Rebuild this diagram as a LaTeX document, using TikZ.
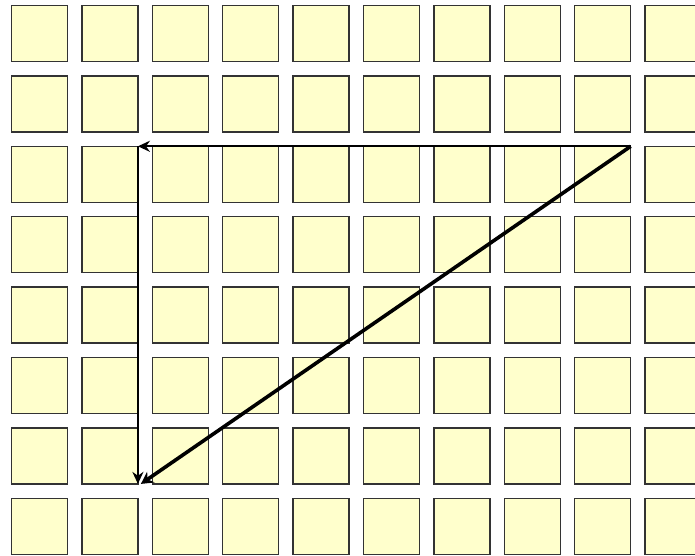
\documentclass[tikz,border=0pt]{standalone}
\usetikzlibrary{arrows.meta}
\definecolor{cellfill}{HTML}{FFFFCC}
\definecolor{celldraw}{HTML}{333333}
\begin{document}
\begin{tikzpicture}[x=1pt,y=-1pt,
  cell/.style={draw=celldraw,fill=cellfill,line width=1.3pt,minimum width=56pt,minimum height=56pt,inner sep=0pt,outer sep=0pt},
  thinarrow/.style={line width=2pt,-{Stealth[length=12pt,width=11pt]}},
  thickarrow/.style={line width=3.6pt,-{Stealth[length=12pt,width=13pt]}}]
\useasboundingbox (0,0) rectangle (695,555);
\foreach \r in {1,...,8}{
  \foreach \c in {1,...,10}{
    \node[cell] (s-\r-\c) at ({39.5+(\c-1)*70.4},{33.5+(\r-1)*70.4}) {};
  }
}
\draw[thinarrow] (s-3-9.north east) -- (s-3-2.north east);
\draw[thinarrow] (s-3-2.north east) -- (s-7-2.south east);
\draw[thickarrow] (s-3-9.north east) -- ([xshift=3pt]s-7-2.south east);
\end{tikzpicture}
\end{document}
